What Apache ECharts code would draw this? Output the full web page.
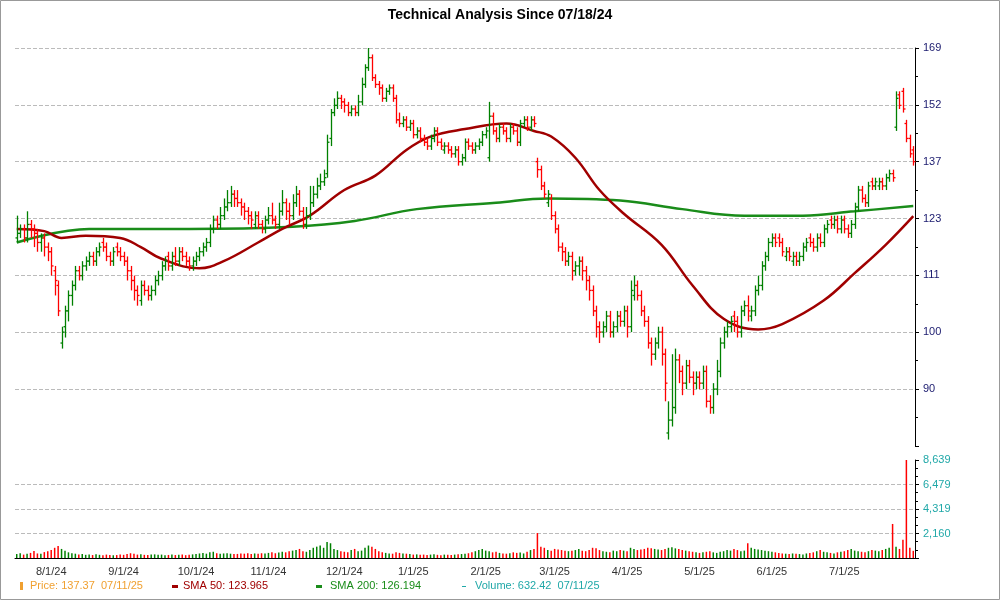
<!DOCTYPE html>
<html><head><meta charset="utf-8">
<script src="https://cdn.jsdelivr.net/npm/echarts@6/dist/echarts.min.js"></script>
<style>html,body{margin:0;padding:0;background:#fff}#c{width:1000px;height:600px}</style>
</head><body><div id="c"></div>
<script>
// OHLC rows [open, high, low, close], one per trading day
const ohlc = [
[119,124,118,120],[120,122,119,121],[121,122,118,119],[119,125,118,122],[122,123,119,121],[121,122,117,120],[120,121,116,118],[118,120,116,119],[119,120,115,117],[117,118,114,116],
[116,117,111,113],[112,113,107,110],[109,110,103,104],[98,101,97,100],[101,105,99,104],[104,108,102,107],[107,110,105,109],[109,113,108,112],[112,113,110,111],[111,114,110,113],
[113,115,112,114],[114,116,113,115],[115,116,113,114],[114,117,113,116],[116,118,115,117],[118,119,116,117],[117,118,114,115],[115,116,113,114],[114,117,113,116],[117,118,115,116],
[116,117,114,115],[115,116,113,114],[114,115,110,112],[112,113,108,110],[110,111,106,108],[108,109,105,107],[106,110,105,109],[109,110,107,108],[108,109,106,107],[107,109,106,108],
[108,111,107,110],[110,112,109,111],[111,114,110,113],[113,115,112,114],[115,116,112,113],[113,116,112,115],[115,117,113,114],[114,117,113,116],[116,117,114,115],[115,116,113,114],
[114,115,112,113],[113,115,112,114],[114,116,113,115],[115,117,114,116],[116,118,115,117],[117,119,116,118],[118,122,117,121],[121,124,120,123],[123,124,121,122],[122,126,121,124],
[124,128,123,126],[126,130,125,127],[127,131,126,129],[129,130,126,128],[128,130,126,127],[127,128,124,126],[126,127,123,125],[125,126,122,124],[124,125,121,123],[122,125,121,124],
[124,125,121,122],[122,123,120,121],[121,124,120,123],[123,126,122,124],[124,127,122,123],[123,124,121,122],[122,127,121,125],[125,130,124,127],[127,128,123,125],[125,127,122,124],
[124,129,123,127],[127,131,126,129],[129,130,124,125],[125,126,121,122],[122,126,121,124],[124,131,123,127],[127,131,126,129],[129,133,128,131],[131,134,130,132],[132,135,131,133],
[134,144,133,142],[143,151,141,150],[150,154,149,152],[152,156,151,154],[154,155,151,153],[153,154,150,152],[152,153,149,150],[150,152,149,151],[151,152,149,150],[150,155,149,153],
[153,160,152,158],[158,164,157,163],[163,169,162,166],[166,167,159,160],[160,161,157,158],[158,159,155,157],[157,158,153,154],[154,157,153,156],[156,158,155,157],[157,158,153,154],
[154,155,147,148],[148,150,146,147],[147,149,146,148],[148,149,145,146],[146,148,145,147],[147,148,143,144],[144,146,143,145],[145,146,142,143],[143,144,141,142],[142,143,140,141],
[141,144,140,143],[143,146,142,145],[145,146,141,142],[142,143,140,141],[140,142,139,141],[141,142,139,140],[140,141,138,139],[139,141,138,140],[140,141,136,137],[137,139,136,138],
[138,143,137,142],[142,143,140,141],[141,142,139,140],[140,142,139,141],[141,143,140,142],[142,145,141,144],[144,146,143,145],[138,153,137,149],[149,150,144,145],[145,146,142,143],
[143,147,142,146],[146,147,144,145],[145,146,142,143],[143,147,142,146],[146,147,144,145],[145,146,141,142],[142,148,141,147],[147,149,146,148],[148,149,145,146],[146,149,145,148],
[148,149,146,147],[137,138,133,135],[135,136,130,131],[131,132,128,129],[127,130,126,129],[128,129,123,124],[124,125,120,121],[121,122,116,117],[117,118,114,116],[116,117,113,114],
[114,116,113,115],[115,116,110,112],[112,114,111,113],[113,115,111,114],[114,115,110,112],[112,113,108,110],[110,111,106,108],[108,109,103,104],[104,105,99,101],[101,102,98,100],
[100,102,99,101],[101,104,100,103],[103,104,99,100],[100,102,99,101],[101,104,100,103],[103,104,101,102],[102,105,101,104],[104,105,99,101],[101,110,100,108],[107,111,106,109],
[109,110,106,107],[107,108,103,104],[104,105,101,102],[102,103,97,98],[98,99,94,96],[96,99,95,98],[98,101,97,100],[100,101,94,96],[96,97,88,91],[83,88,82,85],
[85,96,84,87],[87,97,86,95],[95,96,91,93],[93,94,89,91],[91,95,90,94],[94,95,91,92],[92,93,89,91],[91,93,90,92],[92,93,90,91],[91,94,90,93],
[93,94,87,88],[88,89,86,87],[87,91,86,90],[90,95,89,93],[93,99,92,98],[98,101,97,100],[100,102,99,101],[101,103,100,102],[103,104,100,102],[102,103,99,100],
[100,105,99,104],[104,106,103,105],[105,107,102,104],[103,105,102,104],[104,109,103,108],[108,111,107,109],[109,114,108,113],[113,116,112,115],[115,119,114,118],[118,120,117,119],
[119,120,117,118],[119,120,117,118],[118,119,115,116],[115,117,114,116],[116,117,114,115],[114,116,113,115],[115,116,113,114],[114,116,113,115],[115,118,114,117],[117,119,116,118],
[119,120,117,118],[118,119,116,117],[117,120,116,119],[119,120,117,118],[118,122,117,121],[121,123,120,122],[123,124,121,122],[122,124,121,123],[123,124,120,121],[121,124,120,123],
[123,124,120,121],[121,122,119,120],[120,123,119,122],[122,127,121,126],[126,131,125,130],[130,131,127,128],[128,129,126,127],[127,132,126,131],[132,133,130,131],[131,133,130,132],
[131,133,130,132],[132,133,130,131],[131,134,130,133],[133,135,132,134],[134,135,132,133],[146,156,145,154],[155,156,151,152],[156,157,150,151],[147,148,142,143],[143,144,138,139],[140,141,136,137]
];
const volume = [
350,420,300,380,450,620,400,380,520,600, 700,900,1050,800,650,500,420,380,300,350,
280,300,260,320,280,250,300,270,240,260, 300,280,350,420,380,300,330,280,260,300,
320,280,300,250,270,300,260,280,300,250, 280,320,350,400,450,380,500,550,420,380,
400,420,380,350,360,400,380,420,360,400, 380,420,400,450,500,420,480,550,500,600,
650,700,800,600,550,700,900,1000,1100,900, 1400,1300,800,700,600,550,500,700,800,600,
650,900,1100,1000,800,600,500,450,400,380, 500,450,400,380,350,300,320,280,300,260,
300,320,280,250,300,280,260,300,320,350, 380,420,500,600,700,800,650,600,500,550,
450,400,380,420,500,450,480,400,550,700, 800,2200,1000,900,700,650,800,750,700,650,
600,650,700,800,650,600,700,900,850,700, 600,550,500,650,600,700,650,600,900,800,
700,750,800,900,850,800,750,700,800,900, 950,850,800,700,650,600,550,500,450,500,
550,600,500,450,550,600,700,650,800,700, 600,650,1300,900,800,750,700,650,600,550,
500,450,400,380,350,400,380,350,300,400, 450,500,600,700,550,500,450,400,500,550,
600,700,800,650,600,550,500,600,700,650, 600,700,800,900,3000,1000,800,1600,8639,900,632
];
const sma50 = [[0,121],[8,120.5],[13,119],[20,119.5],[30,119],[36,117],[42,114.5],[53,112.5],[60,114],[70,118],[77,121],[85,124],[95,130],[104,133.5],[113,140],[120,143.5],[130,145.5],[142,147],[150,145],[155,143.5],[162,138],[169,130],[176,124.5],[187,117.5],[196,109],[205,102.5],[215,100.5],[222,101.5],[234,106],[243,111.5],[252,117.5],[260,123.9]];
const sma200 = [[0,118],[21,121],[50,121],[80,121.5],[98,122.8],[116,125.5],[139,127],[154,128],[175,127.5],[193,125.5],[211,124],[228,124],[243,125],[260,126.2]];
const priceTicks = [90,100,111,123,137,152,169];
const volTicks = ['0','2,160','4,319','6,479','8,639'];
const monthLabels = {10:'8/1/24',31:'9/1/24',52:'10/1/24',73:'11/1/24',95:'12/1/24',115:'1/1/25',136:'2/1/25',156:'3/1/25',177:'4/1/25',198:'5/1/25',219:'6/1/25',240:'7/1/25'};

const LR = Math.log(169/90)/6;
const T = p => Math.log(p/90)/LR;
const cats = ohlc.map((_, i) => String(i));
const UP = '#008000', DN = '#ff0000';

const chart = echarts.init(document.getElementById('c'));
chart.setOption({
  animation:false,
  title:{text:'Technical Analysis Since 07/18/24',left:'center',top:3,textStyle:{fontFamily:'Liberation Sans',fontSize:14,fontWeight:'bold',color:'#000'}},
  grid:[{left:15,right:85,top:48,bottom:154},{left:15,right:85,top:460,bottom:42}],
  xAxis:[
    {type:'category',data:cats,gridIndex:0,boundaryGap:true,axisLine:{show:false},axisTick:{show:false},axisLabel:{show:false}},
    {type:'category',data:cats,gridIndex:1,boundaryGap:true,axisLine:{lineStyle:{color:'#000'}},
      axisTick:{interval:(i)=>monthLabels[i]!==undefined,lineStyle:{color:'#000'},length:4},
      axisLabel:{interval:(i)=>monthLabels[i]!==undefined,formatter:(v)=>monthLabels[v]||'',fontFamily:'Liberation Sans',fontSize:11,color:'#333'}}
  ],
  yAxis:[
    {type:'value',gridIndex:0,position:'right',min:-1,max:6,interval:1,
      axisLine:{show:true,lineStyle:{color:'#000'}},axisTick:{show:true,length:4,lineStyle:{color:'#000'}},
      minorTick:{show:true,splitNumber:2,length:3,lineStyle:{color:'#000'}},
      splitLine:{show:true,showMinLine:false,lineStyle:{color:'#bbb',type:'dashed'}},
      axisLabel:{fontFamily:'Liberation Sans',fontSize:11,color:'#1a1a6e',
        formatter:(v)=>{const k=Math.round(v);return (Math.abs(v-k)<1e-6&&k>=0&&k<=6)?String(priceTicks[k]):'';}}},
    {type:'value',gridIndex:1,position:'right',min:0,max:8639,interval:8639/4,
      axisLine:{show:true,lineStyle:{color:'#000'}},axisTick:{show:true,length:4,lineStyle:{color:'#000'}},
      minorTick:{show:true,splitNumber:3,length:3,lineStyle:{color:'#000'}},
      splitLine:{show:true,showMaxLine:false,showMinLine:false,lineStyle:{color:'#bbb',type:'dashed'}},
      axisLabel:{fontFamily:'Liberation Sans',fontSize:11,color:'#20a8a8',
        formatter:(v)=>{const k=Math.round(v/(8639/4));return k>0?volTicks[k]:'';}}}
  ],
  series:[
    {type:'line',xAxisIndex:0,yAxisIndex:0,data:sma200.map(d=>[d[0],T(d[1])]),smooth:0.4,symbol:'none',lineStyle:{color:'#1a8c1a',width:2.5},z:2},
    {type:'line',xAxisIndex:0,yAxisIndex:0,data:sma50.map(d=>[d[0],T(d[1])]),smooth:0.4,symbol:'none',lineStyle:{color:'#a00000',width:2.5},z:2},
    {type:'custom',xAxisIndex:0,yAxisIndex:0,z:3,clip:false,
      data:ohlc.map((r,i)=>[i,T(r[0]),T(r[1]),T(r[2]),T(r[3])]),
      encode:{x:0,y:[1,2,3,4]},
      renderItem:(params,api)=>{
        const x=api.value(0);
        const o=api.coord([x,api.value(1)]),h=api.coord([x,api.value(2)]),l=api.coord([x,api.value(3)]),c=api.coord([x,api.value(4)]);
        const col=api.value(4)>=api.value(1)?UP:DN;
        const st={stroke:col,lineWidth:1.3};
        const cx=Math.round(o[0])+0.5;
        return {type:'group',children:[
          {type:'line',shape:{x1:cx,y1:h[1],x2:cx,y2:l[1]},style:st},
          {type:'line',shape:{x1:cx-2,y1:o[1],x2:cx,y2:o[1]},style:st},
          {type:'line',shape:{x1:cx,y1:c[1],x2:cx+2,y2:c[1]},style:st}
        ]};
      }},
    {type:'bar',xAxisIndex:1,yAxisIndex:1,barWidth:1.5,
      data:volume.map((v,i)=>({value:v,itemStyle:{color:ohlc[i][3]>=ohlc[i][0]?UP:DN}}))}
  ],
  graphic:[
    {type:'rect',shape:{x:0.5,y:0.5,width:999,height:599},style:{fill:'none',stroke:'#999',lineWidth:1}},
    {type:'rect',shape:{x:20,y:582,width:3,height:8},style:{fill:'#f0a030'}},
    {type:'text',left:30,top:580,style:{text:'Price: 137.37  07/11/25',fill:'#f0a030',font:'11px Liberation Sans'}},
    {type:'rect',shape:{x:172,y:585,width:6,height:3},style:{fill:'#a00000'}},
    {type:'text',left:183,top:580,style:{text:'SMA 50: 123.965',fill:'#a00000',font:'11px Liberation Sans'}},
    {type:'rect',shape:{x:316,y:585,width:6,height:3},style:{fill:'#1a8c1a'}},
    {type:'text',left:330,top:580,style:{text:'SMA 200: 126.194',fill:'#1a8c1a',font:'11px Liberation Sans'}},
    {type:'rect',shape:{x:462,y:586,width:4,height:1},style:{fill:'#20a8a8'}},
    {type:'text',left:475,top:580,style:{text:'Volume: 632.42  07/11/25',fill:'#20a8a8',font:'11px Liberation Sans'}}
  ]
});
</script></body></html>
